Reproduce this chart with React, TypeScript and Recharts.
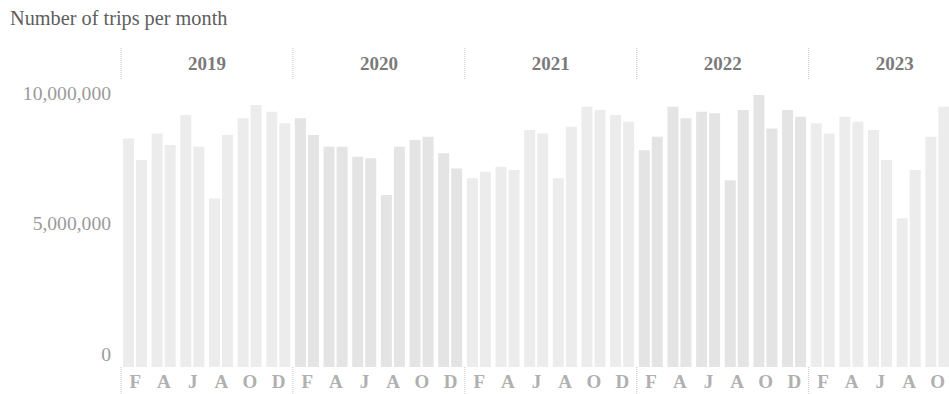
import { BarChart, Bar, XAxis, YAxis, Cell } from "recharts";

const years = ["2019", "2020", "2021", "2022", "2023"];
// every tick sits under a two-month pair and is named after its second month
const pairLetters = ["F", "A", "J", "A", "O", "D"];
const valueTicks = [0, 5000000, 10000000];

const trips2019 = [8760000, 7930000, 8950000, 8510000, 9660000, 8440000, 6460000, 8890000, 9530000, 10040000, 9780000, 9340000];
const trips2020 = [9530000, 8890000, 8440000, 8440000, 8060000, 8000000, 6590000, 8440000, 8700000, 8820000, 8190000, 7610000];
const trips2021 = [7230000, 7480000, 7670000, 7550000, 9080000, 8950000, 7230000, 9210000, 9970000, 9850000, 9660000, 9400000];
const trips2022 = [8310000, 8820000, 9970000, 9530000, 9780000, 9720000, 7160000, 9850000, 10420000, 9140000, 9850000, 9590000];
const trips2023 = [9340000, 8950000, 9590000, 9400000, 9080000, 7930000, 5700000, 7550000, 8820000, 9970000];

const tripsByYear = [trips2019, trips2020, trips2021, trips2022, trips2023];

type PairRow = {
  key: string;
  label: string;
  year: number;
  first: number;
  second: number;
  yearStart: boolean;
};

const rows: PairRow[] = tripsByYear.flatMap((months, y) => {
  const out: PairRow[] = [];
  for (let i = 0; i < months.length; i += 2) {
    out.push({
      key: `${years[y]}-${i + 1}`,
      label: pairLetters[i / 2],
      year: y,
      first: months[i],
      second: months[i + 1],
      yearStart: i === 0,
    });
  }
  return out;
});

const SERIF = '"Liberation Serif", "Times New Roman", serif';
const CHART_W = 952;
const CHART_H = 394;
const AXIS_W = 121;
const BAND = (CHART_W - AXIS_W) / rows.length;
const yearFills = ["#ececec", "#e4e4e4"];
const sepColor = "#c4c4c4";

const ValueTick = (props: any) => {
  const { x, y, payload } = props;
  return (
    <text
      x={x}
      y={y - 13}
      dy="0.35em"
      textAnchor="end"
      fontFamily={SERIF}
      fontSize={19.6}
      fill="#9a9a9a"
    >
      {Number(payload.value).toLocaleString("en-US")}
    </text>
  );
};

const MonthTick = (props: any) => {
  const { x, y, index, payload } = props;
  const row = rows[index];
  if (!row) return null;
  const half = payload && payload.offset ? payload.offset : BAND / 2;
  const left = x - half;
  return (
    <g>
      <text
        x={x}
        y={y + 21}
        textAnchor="middle"
        fontFamily={SERIF}
        fontWeight="bold"
        fontSize={19}
        fill="#b0b0b0"
      >
        {row.label}
      </text>
      {row.yearStart && (
        <g>
          <line x1={left} x2={left} y1={y} y2={y + 27} stroke={sepColor} strokeDasharray="1 1" />
          <line x1={left} x2={left} y1={48} y2={79} stroke={sepColor} strokeDasharray="1 1" />
          <text
            x={left + half * 6}
            y={70}
            textAnchor="middle"
            fontFamily={SERIF}
            fontWeight="bold"
            fontSize={19}
            fill="#7a7a7a"
          >
            {years[row.year]}
          </text>
        </g>
      )}
    </g>
  );
};

export default function App() {
  return (
    <div
      style={{
        position: "absolute",
        left: 0,
        top: 0,
        width: 949,
        height: CHART_H,
        overflow: "hidden",
        background: "#fff",
      }}
    >
      <div
        style={{
          position: "absolute",
          left: 10,
          top: 7,
          fontFamily: SERIF,
          fontSize: 20.3,
          color: "#5e5e5e",
          whiteSpace: "nowrap",
        }}
      >
        Number of trips per month
      </div>
      <BarChart
        width={CHART_W}
        height={CHART_H}
        data={rows}
        margin={{ top: 93, right: 0, bottom: 0, left: 0 }}
        barGap={2}
        barCategoryGap={2}
      >
        <XAxis
          dataKey="key"
          height={27}
          interval={0}
          axisLine={false}
          tickLine={false}
          tickSize={0}
          tickMargin={0}
          tick={<MonthTick />}
        />
        <YAxis
          width={AXIS_W}
          domain={[0, 10500000]}
          ticks={valueTicks}
          axisLine={false}
          tickLine={false}
          tickSize={0}
          tickMargin={10}
          tick={<ValueTick />}
        />
        <Bar dataKey="first" isAnimationActive={false}>
          {rows.map((r) => (
            <Cell key={r.key} fill={yearFills[r.year % 2]} />
          ))}
        </Bar>
        <Bar dataKey="second" isAnimationActive={false}>
          {rows.map((r) => (
            <Cell key={r.key} fill={yearFills[r.year % 2]} />
          ))}
        </Bar>
      </BarChart>
    </div>
  );
}
